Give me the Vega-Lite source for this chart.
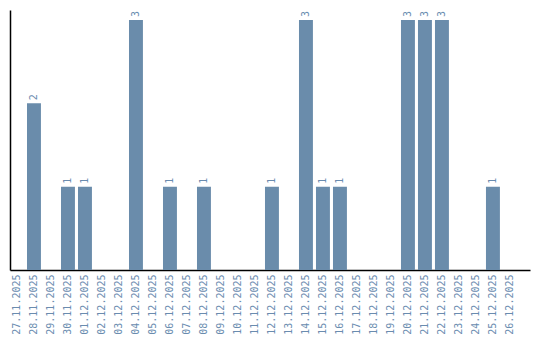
{
  "$schema": "https://vega.github.io/schema/vega-lite/v6.json",
  "width": 520,
  "height": 260,
  "autosize": {"type": "none"},
  "padding": {"left": 10, "top": 10, "right": 10, "bottom": 70},
  "background": "white",
  "config": {"view": {"stroke": null}},
  "data": {"values": [
    {"date": "27.11.2025", "count": 0},
    {"date": "28.11.2025", "count": 2},
    {"date": "29.11.2025", "count": 0},
    {"date": "30.11.2025", "count": 1},
    {"date": "01.12.2025", "count": 1},
    {"date": "02.12.2025", "count": 0},
    {"date": "03.12.2025", "count": 0},
    {"date": "04.12.2025", "count": 3},
    {"date": "05.12.2025", "count": 0},
    {"date": "06.12.2025", "count": 1},
    {"date": "07.12.2025", "count": 0},
    {"date": "08.12.2025", "count": 1},
    {"date": "09.12.2025", "count": 0},
    {"date": "10.12.2025", "count": 0},
    {"date": "11.12.2025", "count": 0},
    {"date": "12.12.2025", "count": 1},
    {"date": "13.12.2025", "count": 0},
    {"date": "14.12.2025", "count": 3},
    {"date": "15.12.2025", "count": 1},
    {"date": "16.12.2025", "count": 1},
    {"date": "17.12.2025", "count": 0},
    {"date": "18.12.2025", "count": 0},
    {"date": "19.12.2025", "count": 0},
    {"date": "20.12.2025", "count": 3},
    {"date": "21.12.2025", "count": 3},
    {"date": "22.12.2025", "count": 3},
    {"date": "23.12.2025", "count": 0},
    {"date": "24.12.2025", "count": 0},
    {"date": "25.12.2025", "count": 1},
    {"date": "26.12.2025", "count": 0}
  ]},
  "encoding": {
    "x": {
      "field": "date", "type": "ordinal", "sort": null,
      "scale": {"paddingInner": 0.18, "paddingOuter": 0.385, "align": 0},
      "axis": {
        "title": null, "labelAngle": -90, "ticks": false,
        "labelFont": "DejaVu Sans Mono", "labelFontSize": 10,
        "labelColor": "#6a8caf", "labelPadding": 4,
        "domainColor": "black", "domainWidth": 1.5
      }
    },
    "y": {
      "field": "count", "type": "quantitative",
      "scale": {"domain": [0, 3.12], "nice": false},
      "axis": {
        "title": null, "labels": false, "ticks": false, "grid": false,
        "domainColor": "black", "domainWidth": 1.5
      }
    }
  },
  "layer": [
    {"mark": {"type": "bar", "color": "#6a8cab"}},
    {
      "transform": [{"filter": "datum.count > 0"}],
      "mark": {"type": "text", "angle": 270, "align": "left", "baseline": "middle", "dx": 3,
               "font": "DejaVu Sans Mono", "fontSize": 10, "color": "#6a8caf"},
      "encoding": {"text": {"field": "count", "type": "quantitative"}}
    }
  ]
}
